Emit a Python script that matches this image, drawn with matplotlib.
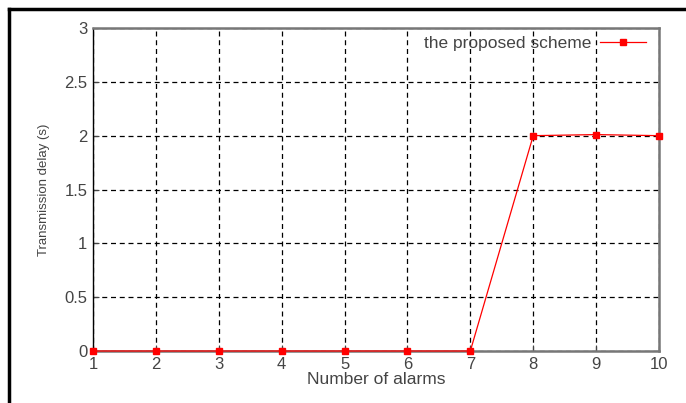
import numpy as np
import matplotlib.pyplot as plt
from matplotlib.lines import Line2D

plt.rcParams['font.family'] = ['Liberation Sans', 'DejaVu Sans']

alarms = [1, 2, 3, 4, 5, 6, 7, 8, 9, 10]
delay = [0, 0, 0, 0, 0, 0, 0, 2.0, 2.01, 2.0]
xticks = [1, 2, 3, 4, 5, 6, 7, 8, 9, 10]
yticks = [0, 0.5, 1, 1.5, 2, 2.5, 3]
ytick_labels = ['0', '0.5', '1', '1.5', '2', '2.5', '3']

fig = plt.figure(figsize=(6.86, 4.03), dpi=100)
ax = fig.add_axes([93 / 686, 1 - 351 / 403, (659 - 93) / 686, (351 - 28) / 403])

ax.plot(alarms, delay, '-', color='red', linewidth=0.9, marker='s', markersize=5,
        label='the proposed scheme', clip_on=False, zorder=5)

ax.set_xlim(1, 10)
ax.set_ylim(0, 3)
ax.set_xticks(xticks)
ax.set_yticks(yticks)
ax.set_yticklabels(ytick_labels)
ax.tick_params(direction='in', length=4, labelsize=12, colors='#444444', pad=4)
ax.grid(True, color='black', linestyle=(0, (4, 3)), linewidth=0.9)

ax.spines['left'].set_color('black')
ax.spines['left'].set_linewidth(1.0)
for side in ['top', 'right', 'bottom']:
    ax.spines[side].set_color('#777777')
    ax.spines[side].set_linewidth(1.8)

ax.set_xlabel('Number of alarms', fontsize=12.5, color='#444444', labelpad=0)
ax.set_ylabel('Transmission delay (s)', fontsize=9.5, color='#444444', labelpad=10)

leg = ax.legend(loc='upper right', frameon=False, fontsize=12.5, markerfirst=False,
                handlelength=2.6, borderaxespad=0.05, handletextpad=0.5,
                bbox_to_anchor=(0.99, 1.0))
for t in leg.get_texts():
    t.set_color('#444444')

# outer frame lines (top and left only)
fig.add_artist(Line2D([9 / 686, 1], [1 - 9 / 403, 1 - 9 / 403], color='black', linewidth=2.5))
fig.add_artist(Line2D([9 / 686, 9 / 686], [0, 1 - 9 / 403], color='black', linewidth=2.5))

plt.savefig('out.png', dpi=100)
